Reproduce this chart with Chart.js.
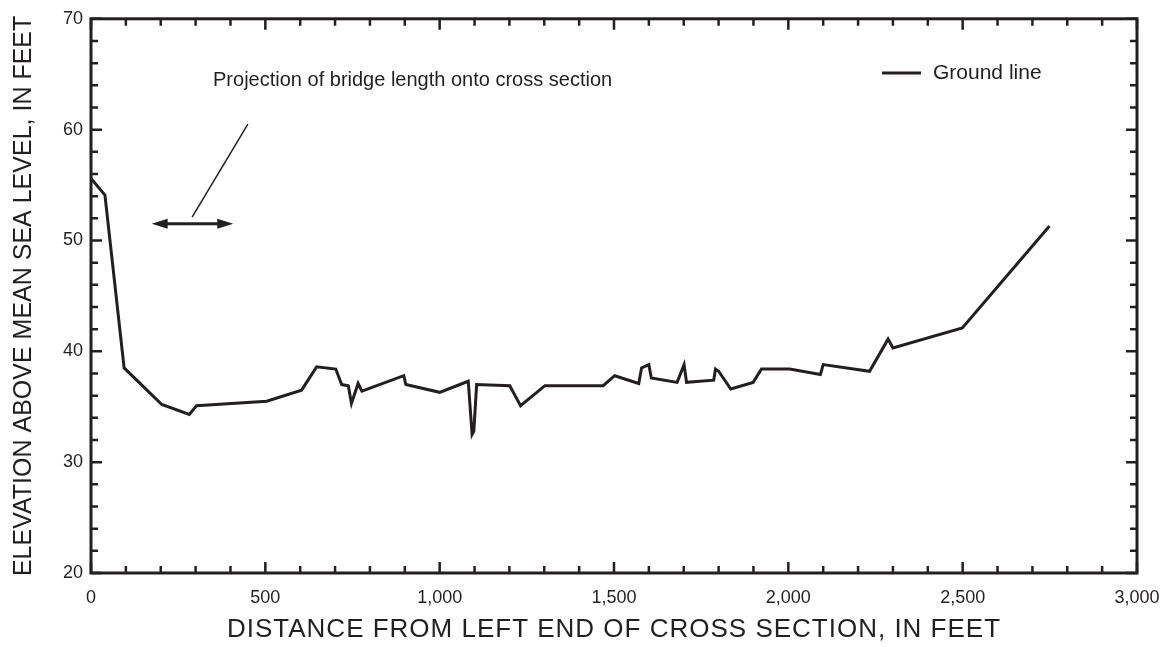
<!DOCTYPE html>
<html>
<head>
<meta charset="utf-8">
<script src="https://cdn.jsdelivr.net/npm/chart.js@4/dist/chart.umd.min.js"></script>
<style>
  html, body { margin: 0; padding: 0; background: #fff; }
  #wrap { width: 1174px; height: 647px; }
</style>
</head>
<body>
<div id="wrap"><canvas id="section"></canvas></div>
<script>
// ground profile along the cross section
const distance = [0, 40, 95, 203, 282, 303, 504, 604, 647, 702, 719, 738, 747, 766, 777,
  897, 903, 1000, 1082, 1093, 1098, 1106, 1201, 1232, 1302, 1469, 1502, 1571, 1579, 1600,
  1607, 1681, 1701, 1708, 1786, 1791, 1800, 1835, 1899, 1923, 2004, 2092, 2100, 2233,
  2286, 2300, 2499, 2749];
const elevation = [55.6, 54.1, 38.5, 35.2, 34.3, 35.1, 35.5, 36.5, 38.6, 38.4, 37.0, 36.9, 35.3, 37.1, 36.4,
  37.8, 37.0, 36.3, 37.3, 32.5, 32.8, 37.0, 36.9, 35.1, 36.9, 36.9, 37.8, 37.1, 38.5, 38.8,
  37.6, 37.2, 38.8, 37.2, 37.4, 38.4, 38.2, 36.6, 37.2, 38.4, 38.4, 37.9, 38.8, 38.2,
  41.1, 40.3, 42.1, 51.3];

const xMin = 0, xMax = 3000, xMajor = 500, xMinor = 100;
const yMin = 20, yMax = 70, yMajor = 10, yMinor = 2;

// bridge length projected onto the section, and its label
const bridgeFrom = 174, bridgeTo = 408, bridgeElev = 51.5;
const leaderFrom = [290, 52.1], leaderTo = [450, 60.5];
const noteAt = [350, 64.4];
const noteText = 'Projection of bridge length onto cross section';

const ink = '#231f20';
const font = '"Liberation Sans", Arial, sans-serif';

const decor = {
  id: 'decor',
  afterDraw(chart) {
    const { ctx, chartArea: a, scales: { x, y } } = chart;
    ctx.save();
    ctx.strokeStyle = ink;
    ctx.fillStyle = ink;
    ctx.lineCap = 'butt';

    // inward ticks on all four sides
    ctx.lineWidth = 2.5;
    ctx.beginPath();
    for (let v = xMin; v <= xMax; v += xMinor) {
      const px = x.getPixelForValue(v);
      const len = v % xMajor === 0 ? 11 : 7;
      ctx.moveTo(px, a.bottom); ctx.lineTo(px, a.bottom - len);
      ctx.moveTo(px, a.top); ctx.lineTo(px, a.top + len);
    }
    for (let v = yMin; v <= yMax; v += yMinor) {
      const py = y.getPixelForValue(v);
      const len = v % yMajor === 0 ? 11 : 7;
      ctx.moveTo(a.left, py); ctx.lineTo(a.left + len, py);
      ctx.moveTo(a.right, py); ctx.lineTo(a.right - len, py);
    }
    ctx.stroke();

    // frame
    ctx.lineWidth = 3;
    ctx.strokeRect(a.left, a.top, a.right - a.left, a.bottom - a.top);

    // double arrow for the bridge
    const ax1 = x.getPixelForValue(bridgeFrom), ax2 = x.getPixelForValue(bridgeTo);
    const ay = y.getPixelForValue(bridgeElev);
    ctx.lineWidth = 3;
    ctx.beginPath();
    ctx.moveTo(ax1 + 10, ay); ctx.lineTo(ax2 - 10, ay);
    ctx.stroke();
    ctx.beginPath();
    ctx.moveTo(ax1, ay); ctx.lineTo(ax1 + 16, ay - 5); ctx.lineTo(ax1 + 16, ay + 5); ctx.closePath();
    ctx.moveTo(ax2, ay); ctx.lineTo(ax2 - 16, ay - 5); ctx.lineTo(ax2 - 16, ay + 5); ctx.closePath();
    ctx.fill();

    // leader line and note
    ctx.lineWidth = 1.5;
    ctx.beginPath();
    ctx.moveTo(x.getPixelForValue(leaderFrom[0]), y.getPixelForValue(leaderFrom[1]));
    ctx.lineTo(x.getPixelForValue(leaderTo[0]), y.getPixelForValue(leaderTo[1]));
    ctx.stroke();
    ctx.font = '20px ' + font;
    ctx.textBaseline = 'middle';
    ctx.textAlign = 'left';
    ctx.fillText(noteText, x.getPixelForValue(noteAt[0]), y.getPixelForValue(noteAt[1]));

    // legend
    ctx.lineWidth = 3;
    ctx.beginPath();
    ctx.moveTo(882, 73); ctx.lineTo(921, 73);
    ctx.stroke();
    ctx.font = '21px ' + font;
    ctx.fillText('Ground line', 933, 73);

    // axis titles
    ctx.textAlign = 'center';
    ctx.font = '26px ' + font;
    ctx.letterSpacing = '1px';
    ctx.fillText('DISTANCE FROM LEFT END OF CROSS SECTION, IN FEET', (a.left + a.right) / 2, 630);
    ctx.letterSpacing = '0px';
    ctx.font = '25px ' + font;
    ctx.translate(24, (a.top + a.bottom) / 2);
    ctx.rotate(-Math.PI / 2);
    ctx.fillText('ELEVATION ABOVE MEAN SEA LEVEL, IN FEET', 0, 0);
    ctx.restore();
  }
};

new Chart(document.getElementById('section'), {
  type: 'line',
  data: {
    datasets: [{
      label: 'Ground line',
      data: distance.map((d, i) => ({ x: d, y: elevation[i] })),
      borderColor: ink,
      borderWidth: 3,
      pointRadius: 0,
      tension: 0,
      borderJoinStyle: 'miter'
    }]
  },
  options: {
    responsive: true,
    maintainAspectRatio: false,
    animation: false,
    layout: { padding: { top: 16, right: 37, left: 0, bottom: 0 } },
    plugins: { legend: { display: false }, tooltip: { enabled: false } },
    scales: {
      x: {
        type: 'linear',
        min: xMin, max: xMax,
        grid: { display: false, drawTicks: false },
        border: { display: false },
        ticks: { stepSize: xMajor, padding: 14, color: ink, font: { family: font, size: 18 } },
        afterFit(s) { s.height = 74; }
      },
      y: {
        min: yMin, max: yMax,
        grid: { display: false, drawTicks: false },
        border: { display: false },
        ticks: { stepSize: yMajor, padding: 8, color: ink, font: { family: font, size: 18 } },
        afterFit(s) { s.width = 91; }
      }
    }
  },
  plugins: [decor]
});
</script>
</body>
</html>
